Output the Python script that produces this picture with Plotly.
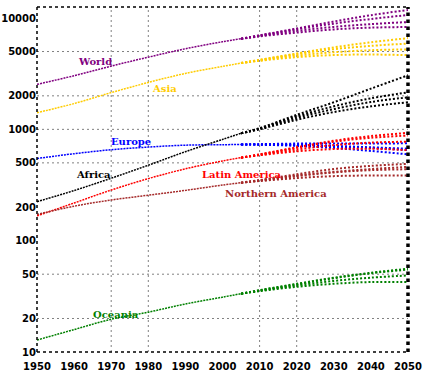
import math
import plotly.graph_objects as go

HIST_YEARS = [1950, 1960, 1970, 1980, 1990, 2000, 2005]
PROJ_YEARS = [2005, 2010, 2020, 2030, 2040, 2050]

REGIONS = ["World", "Asia", "Europe", "Africa", "Latin America", "Northern America", "Oceania"]

WORLD_HIST = [2535, 3032, 3699, 4451, 5295, 6124, 6515]
ASIA_HIST = [1411, 1704, 2139, 2636, 3181, 3676, 3938]
EUROPE_HIST = [547, 604, 656, 693, 721, 728, 731]
AFRICA_HIST = [224, 282, 364, 476, 630, 812, 922]
LATAM_HIST = [167, 218, 285, 361, 442, 520, 557]
NAM_HIST = [172, 204, 232, 256, 283, 316, 332]
OCEANIA_HIST = [12.8, 15.9, 19.7, 22.8, 27.0, 31.1, 33.4]

# projection variants: low, medium, high, constant fertility
WORLD_LOW = [6515, 6840, 7400, 7900, 8200, 8300]
WORLD_MED = [6515, 6900, 7670, 8320, 8820, 9200]
WORLD_HIGH = [6515, 6970, 7950, 8900, 9800, 10650]
WORLD_CONST = [6515, 6990, 8050, 9300, 10600, 11800]

ASIA_LOW = [3938, 4130, 4450, 4650, 4700, 4640]
ASIA_MED = [3938, 4166, 4596, 4930, 5140, 5230]
ASIA_HIGH = [3938, 4200, 4740, 5250, 5620, 5900]
ASIA_CONST = [3938, 4210, 4800, 5450, 6050, 6600]

EUROPE_LOW = [731, 728, 710, 680, 640, 596]
EUROPE_MED = [731, 732, 726, 710, 690, 670]
EUROPE_HIGH = [731, 736, 745, 745, 745, 750]
EUROPE_CONST = [731, 730, 720, 700, 680, 650]

AFRICA_LOW = [922, 1000, 1220, 1430, 1610, 1750]
AFRICA_MED = [922, 1010, 1270, 1520, 1760, 1940]
AFRICA_HIGH = [922, 1020, 1310, 1610, 1900, 2150]
AFRICA_CONST = [922, 1025, 1350, 1750, 2320, 3060]

LATAM_LOW = [557, 585, 635, 665, 670, 650]
LATAM_MED = [557, 589, 660, 722, 760, 775]
LATAM_HIGH = [557, 594, 685, 775, 840, 880]
LATAM_CONST = [557, 596, 690, 790, 870, 930]

NAM_LOW = [332, 343, 365, 380, 385, 385]
NAM_MED = [332, 347, 380, 410, 430, 438]
NAM_HIGH = [332, 350, 395, 440, 470, 490]
NAM_CONST = [332, 348, 385, 415, 440, 460]

OCEANIA_LOW = [33.4, 35.2, 38.5, 41.0, 42.5, 42.5]
OCEANIA_MED = [33.4, 35.5, 39.5, 43.5, 46.5, 48.7]
OCEANIA_HIGH = [33.4, 35.8, 40.5, 46.0, 51.0, 55.0]
OCEANIA_CONST = [33.4, 35.9, 41.0, 46.5, 51.5, 56.0]

X_TICKS = [1950, 1960, 1970, 1980, 1990, 2000, 2010, 2020, 2030, 2040, 2050]
Y_TICKS = [10, 20, 50, 100, 200, 500, 1000, 2000, 5000, 10000]
Y_TICK_TEXT = ["10", "20", "50", "100", "200", "500", "1000", "2000", "5000", "10000"]
GRID_X = [1970, 1980, 2010, 2020]
GRID_Y = [20, 50, 500, 1000, 2000, 5000]

series = [
    ("World", "#800080", WORLD_HIST, [WORLD_LOW, WORLD_MED, WORLD_HIGH, WORLD_CONST], 1965.6, 4100),
    ("Asia", "#ffcc00", ASIA_HIST, [ASIA_LOW, ASIA_MED, ASIA_HIGH, ASIA_CONST], 1984.5, 2350),
    ("Europe", "#0000ff", EUROPE_HIST, [EUROPE_LOW, EUROPE_MED, EUROPE_HIGH, EUROPE_CONST], 1975.3, 770),
    ("Africa", "#000000", AFRICA_HIST, [AFRICA_LOW, AFRICA_MED, AFRICA_HIGH, AFRICA_CONST], 1965.3, 390),
    ("Latin America", "#ff0000", LATAM_HIST, [LATAM_LOW, LATAM_MED, LATAM_HIGH, LATAM_CONST], 2005.3, 395),
    ("Northern America", "#a52a2a", NAM_HIST, [NAM_LOW, NAM_MED, NAM_HIGH, NAM_CONST], 2014.4, 265),
    ("Oceania", "#008000", OCEANIA_HIST, [OCEANIA_LOW, OCEANIA_MED, OCEANIA_HIGH, OCEANIA_CONST], 1971.3, 21.8),
]

fig = go.Figure()

# gridlines as thin traces
for gx in GRID_X:
    fig.add_trace(go.Scatter(x=[gx, gx], y=[10, 12600], mode="lines",
                             line=dict(color="#808080", width=1, dash="2px,3px"),
                             hoverinfo="skip", showlegend=False))
for gy in GRID_Y:
    fig.add_trace(go.Scatter(x=[1950, 2050], y=[gy, gy], mode="lines",
                             line=dict(color="#808080", width=1, dash="2px,3px"),
                             hoverinfo="skip", showlegend=False))

annotations = []
for name, color, hist, variants, lx, ly in series:
    fig.add_trace(go.Scatter(x=HIST_YEARS, y=hist, mode="lines", name=name,
                             line=dict(color=color, width=1.5, dash="2px,1px", shape="spline"),
                             showlegend=False))
    for v in variants:
        fig.add_trace(go.Scatter(x=PROJ_YEARS, y=v, mode="lines", name=name,
                                 line=dict(color=color, width=2, dash="2px,2px", shape="spline"),
                                 showlegend=False))
    annotations.append(dict(x=lx, y=math.log10(ly), xref="x", yref="y", text="<b>%s</b>" % name,
                            showarrow=False, font=dict(family="DejaVu Serif", size=10, color=color)))

shapes = [
    dict(type="line", xref="paper", yref="paper", x0=0, x1=1, y0=1, y1=1,
         line=dict(color="black", width=1.5, dash="dot")),
    dict(type="line", xref="paper", yref="paper", x0=0, x1=1, y0=0, y1=0,
         line=dict(color="black", width=1.5, dash="dot")),
    dict(type="line", xref="paper", yref="paper", x0=0, x1=0, y0=0, y1=1,
         line=dict(color="black", width=1.5, dash="dot")),
    dict(type="line", xref="paper", yref="paper", x0=1, x1=1, y0=0, y1=1,
         line=dict(color="black", width=3.5, dash="dot")),
]

fig.update_layout(
    width=427, height=378,
    margin=dict(l=37, r=19, t=7, b=26),
    paper_bgcolor="white", plot_bgcolor="white",
    annotations=annotations, shapes=shapes,
    xaxis=dict(range=[1950, 2050], tickvals=X_TICKS, showgrid=False, zeroline=False, automargin=False,
               showline=False, ticks="", ticklabelstandoff=7,
               tickfont=dict(family="DejaVu Sans", size=10, color="black", weight="bold")),
    yaxis=dict(type="log", range=[1, 4.099], tickvals=Y_TICKS, ticktext=Y_TICK_TEXT, showgrid=False,
               zeroline=False, automargin=False, showline=False, ticks="",
               tickfont=dict(family="DejaVu Sans", size=10, color="black", weight="bold")),
)

fig.write_html("out.html", config={"displayModeBar": False},
               post_script="document.body.style.margin='0';document.body.style.overflow='hidden';")
